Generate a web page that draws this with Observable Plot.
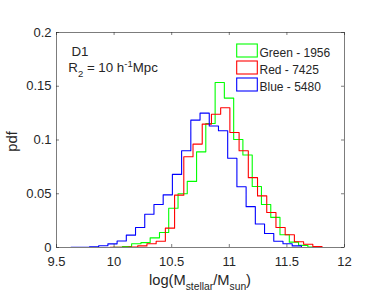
<!DOCTYPE html>
<html><head><meta charset="utf-8">
<script src="https://cdn.jsdelivr.net/npm/d3@7"></script>
<script src="https://cdn.jsdelivr.net/npm/@observablehq/plot@0.6"></script>
<style>body{margin:0;background:#fff} svg{display:block}</style>
</head><body><div id="chart"></div>
<script>
// ---- data ----
const seriesNames = ["Green - 1956", "Red - 7425", "Blue - 5480"];
const seriesColors = ["#00ff00", "#ff0000", "#0000ff"];

const greenEdges = [9.991, 10.072, 10.152, 10.233, 10.313, 10.394, 10.474, 10.555, 10.635, 10.716, 10.796, 10.877, 10.957, 11.038, 11.118, 11.199, 11.279, 11.360, 11.440, 11.521, 11.601, 11.682, 11.762];
const greenValues = [0.0003, 0.001, 0.0035, 0.0045, 0.009, 0.014, 0.0365, 0.050, 0.0615, 0.089, 0.1154, 0.1535, 0.139, 0.1005, 0.086, 0.0568, 0.040, 0.028, 0.0118, 0.005, 0.002, 0.0005];

const redEdges = [9.965, 10.045, 10.125, 10.205, 10.285, 10.365, 10.445, 10.525, 10.605, 10.685, 10.765, 10.845, 10.925, 11.005, 11.085, 11.165, 11.245, 11.325, 11.405, 11.485, 11.565, 11.645, 11.725, 11.805];
const redValues = [0.0002, 0.0003, 0.0005, 0.0015, 0.0035, 0.0058, 0.018, 0.0487, 0.0844, 0.0962, 0.1148, 0.124, 0.130, 0.107, 0.090, 0.065, 0.048, 0.0326, 0.0186, 0.0118, 0.0053, 0.003, 0.001];

const blueEdges = [9.466, 9.546, 9.626, 9.706, 9.786, 9.866, 9.946, 10.026, 10.106, 10.186, 10.266, 10.346, 10.426, 10.506, 10.586, 10.666, 10.746, 10.826, 10.906, 10.986, 11.066, 11.146, 11.226, 11.306, 11.386, 11.466, 11.546, 11.626];
const blueValues = [0, 0, 0.0003, 0.0003, 0.0006, 0.0016, 0.0034, 0.006, 0.0115, 0.0186, 0.031, 0.040, 0.049, 0.068, 0.090, 0.1185, 0.125, 0.113, 0.1086, 0.083, 0.0565, 0.038, 0.0218, 0.013, 0.0058, 0.0035, 0.0015];

const xTicks = [9.5, 10, 10.5, 11, 11.5, 12];
const yTicks = [0, 0.05, 0.1, 0.15, 0.2];
const xLabelMain = ["log(M", "/M", ")"];
const xLabelSubs = ["stellar", "sun"];
const yLabel = "pdf";
const annot1 = "D1";

// outline of a histogram drawn as stairs (MATLAB 'stairs' display style)
function stairs(edges, values) {
  const pts = [{x: edges[0], y: 0}];
  values.forEach((v, i) => pts.push({x: edges[i], y: v}));
  pts.push({x: edges[edges.length - 1], y: 0});
  return pts;
}
const series = [
  stairs(greenEdges, greenValues),
  stairs(redEdges, redValues),
  stairs(blueEdges, blueValues)
];

// ---- layout ----
const W = 382, H = 305, mL = 56, mR = 38, mT = 32, mB = 58;
const frameW = W - mL - mR, frameH = H - mT - mB;
const tickLen = 3;
const ink = "#262626";
const font = "'Liberation Sans', Arial, Helvetica, sans-serif";

const chart = Plot.plot({
  width: W, height: H,
  marginLeft: mL, marginRight: mR, marginTop: mT, marginBottom: mB,
  style: {fontFamily: font, fontSize: "13px", color: ink, background: "#fff"},
  x: {domain: [9.5, 12]},
  y: {domain: [0, 0.2]},
  marks: [
    ...series.map((pts, i) => Plot.line(pts, {
      x: "x", y: "y", curve: "step-after", clip: true,
      stroke: seriesColors[i], strokeWidth: 1.1
    })),
    Plot.frame({stroke: ink, strokeWidth: 0.6}),
    Plot.ruleX(xTicks, {x: d => d, insetTop: frameH - tickLen, stroke: ink, strokeWidth: 0.6}),
    Plot.ruleX(xTicks, {x: d => d, insetBottom: frameH - tickLen, stroke: ink, strokeWidth: 0.6}),
    Plot.ruleY(yTicks, {y: d => d, insetRight: frameW - tickLen, stroke: ink, strokeWidth: 0.6}),
    Plot.ruleY(yTicks, {y: d => d, insetLeft: frameW - tickLen, stroke: ink, strokeWidth: 0.6}),
    Plot.axisX(xTicks, {tickSize: 0, tickPadding: 9.5, tickFormat: d => String(d), label: null, fontSize: 13}),
    Plot.axisY(yTicks, {tickSize: 0, tickPadding: 5, tickFormat: d => String(d), label: null, fontSize: 13})
  ]
});
document.getElementById("chart").appendChild(chart);

// ---- text overlays (labels with sub/superscripts, annotation, legend) ----
const svg = d3.select(chart);
const g = svg.append("g").attr("font-family", font).attr("fill", ink).attr("text-anchor", "start");

// x label
const xl = g.append("text").attr("x", mL + frameW / 2).attr("y", 285)
  .attr("text-anchor", "middle").attr("font-size", 14.7);
xl.append("tspan").text(xLabelMain[0]);
xl.append("tspan").attr("font-size", 10.3).attr("dy", 4.5).text(xLabelSubs[0]);
xl.append("tspan").attr("dy", -4.5).text(xLabelMain[1]);
xl.append("tspan").attr("font-size", 10.3).attr("dy", 4.5).text(xLabelSubs[1]);
xl.append("tspan").attr("dy", -4.5).text(xLabelMain[2]);

// y label
g.append("text").attr("transform", `translate(16.5,${mT + frameH / 2 + 2}) rotate(-90)`)
  .attr("text-anchor", "middle").attr("font-size", 14.7).text(yLabel);

// annotation
g.append("text").attr("x", 71.5).attr("y", 55.7).attr("font-size", 13.3).text(annot1);
const r2 = g.append("text").attr("x", 68.3).attr("y", 72.3).attr("font-size", 13.3);
r2.append("tspan").text("R");
r2.append("tspan").attr("font-size", 9.5).attr("dy", 5).text("2");
r2.append("tspan").attr("dy", -5).text(" = 10 h");
r2.append("tspan").attr("font-size", 9.5).attr("dy", -5).text("-1");
r2.append("tspan").attr("dy", 5).text("Mpc");

// legend
seriesNames.forEach((name, i) => {
  const y0 = 44 + i * 17;
  g.append("rect").attr("x", 236.7).attr("y", y0).attr("width", 20.6).attr("height", 13)
    .attr("fill", "none").attr("stroke", seriesColors[i]).attr("stroke-width", 1.1);
  g.append("text").attr("x", 259.5).attr("y", y0 + 12.6).attr("font-size", 12).text(name);
});
</script>
</body></html>
